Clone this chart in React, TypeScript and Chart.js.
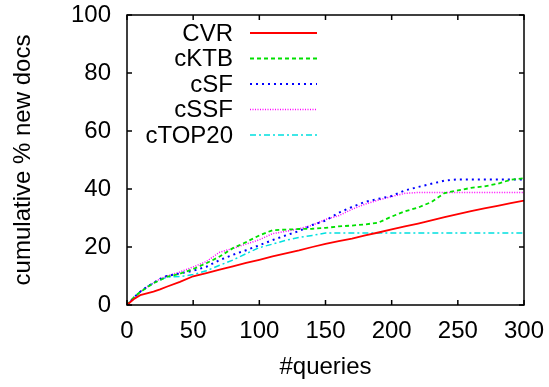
import React, { useEffect, useRef } from "react";
import { Chart, registerables } from "chart.js";

Chart.register(...registerables);

const queries = [0, 5, 10, 15, 20, 25, 30, 40, 50, 60, 70, 80, 90, 100, 110, 120, 130, 140, 150, 160, 170, 180, 190, 200, 210, 220, 230, 240, 250, 260, 270, 280, 290, 300];

const cvr = [0, 2, 3.4, 4, 4.6, 5.4, 6.3, 8, 9.9, 11, 12.2, 13.3, 14.5, 15.6, 16.8, 17.8, 18.8, 20, 21.1, 22, 22.9, 24, 25, 26.1, 27.1, 28.1, 29.2, 30.3, 31.3, 32.4, 33.3, 34.2, 35.1, 36];
const cktb = [0, 2.5, 4.5, 6, 7.5, 8.6, 9.7, 10.8, 12.4, 14.4, 16.7, 19.6, 21.7, 24, 25.8, 26, 26.2, 26.3, 26.6, 27.1, 27.4, 27.8, 28.4, 30.5, 32.3, 33.6, 35.5, 38.6, 39.5, 40.4, 40.9, 41.8, 43.2, 43.7];
const csf = [0, 2.5, 4.6, 6.2, 7.6, 9, 10, 10.9, 11.8, 13.2, 15.5, 17.3, 18.9, 20.6, 22.4, 24, 25.5, 27.6, 29.1, 31.8, 33.8, 35.6, 36.6, 37.6, 39.5, 40.7, 41.8, 42.9, 43.3, 43.3, 43.3, 43.3, 43.3, 43.3];
const cssf = [0, 2.5, 4.6, 6.2, 7.6, 9, 10, 11.4, 13.1, 15, 18.2, 19.5, 21, 22.5, 24.6, 25.4, 26.3, 27.5, 29.5, 30.8, 33, 34.8, 36.2, 37.4, 38.5, 38.8, 38.8, 38.8, 38.8, 38.8, 38.8, 38.8, 38.8, 38.8];
const ctop20 = [0, 2.5, 4.6, 6.3, 7.6, 8.6, 9.6, 9.8, 10.5, 11.8, 13.7, 15.5, 17.7, 19.8, 21, 22.3, 23.3, 24, 24.8, 24.8, 24.8, 24.8, 24.8, 24.8, 24.8, 24.8, 24.8, 24.8, 24.8, 24.8, 24.8, 24.8, 24.8, 24.8];

const seriesNames = ["CVR", "cKTB", "cSF", "cSSF", "cTOP20"];
const seriesValues = [cvr, cktb, csf, cssf, ctop20];
const seriesColors = ["#ff0000", "#00e000", "#0000ff", "#ff00ff", "#00e0e0"];
const seriesDashes = [[], [4, 3], [2, 4], [1, 1.5], [6, 3, 2, 3]];
const seriesWidths = [1.8, 1.8, 2, 1.5, 1.5];

const FONT = '"Liberation Sans", Arial, Helvetica, sans-serif';

const framePlugin = {
  id: "frameTicks",
  afterDraw(chart: any) {
    const { ctx, chartArea } = chart;
    const { left, right, top, bottom } = chartArea;
    const xs = chart.scales.x;
    const ys = chart.scales.y;
    ctx.save();
    ctx.strokeStyle = "#000";
    ctx.lineWidth = 1.5;
    ctx.setLineDash([]);
    const tl = 5;
    ctx.beginPath();
    xs.ticks.forEach((t: any) => {
      const px = xs.getPixelForValue(t.value);
      ctx.moveTo(px, bottom);
      ctx.lineTo(px, bottom - tl);
      ctx.moveTo(px, top);
      ctx.lineTo(px, top + tl);
    });
    ys.ticks.forEach((t: any) => {
      const py = ys.getPixelForValue(t.value);
      ctx.moveTo(left, py);
      ctx.lineTo(left + tl, py);
      ctx.moveTo(right, py);
      ctx.lineTo(right - tl, py);
    });
    ctx.stroke();
    ctx.strokeRect(left, top, right - left, bottom - top);

    // legend
    const textRight = 233;
    const lineStart = 250;
    const lineEnd = 317;
    const rowTop = 33;
    const rowStep = 25.5;
    ctx.font = `24px ${FONT}`;
    ctx.textAlign = "right";
    ctx.textBaseline = "middle";
    chart.data.datasets.forEach((ds: any, i: number) => {
      const y = rowTop + i * rowStep;
      ctx.fillStyle = "#000";
      ctx.fillText(ds.label, textRight, y + 1);
      ctx.beginPath();
      ctx.strokeStyle = ds.borderColor;
      ctx.lineWidth = ds.borderWidth;
      ctx.setLineDash(ds.borderDash || []);
      ctx.moveTo(lineStart, y);
      ctx.lineTo(lineEnd, y);
      ctx.stroke();
    });
    ctx.restore();
  },
};

export default function App() {
  const ref = useRef<HTMLCanvasElement | null>(null);

  useEffect(() => {
    if (!ref.current) return;
    const datasets = seriesNames.map((name, i) => ({
      label: name,
      data: queries.map((q, j) => ({ x: q, y: seriesValues[i][j] })),
      borderColor: seriesColors[i],
      backgroundColor: seriesColors[i],
      borderDash: seriesDashes[i],
      borderWidth: seriesWidths[i],
      pointRadius: 0,
      tension: 0,
      fill: false,
    }));
    const chart = new Chart(ref.current, {
      type: "line",
      data: { datasets },
      plugins: [framePlugin],
      options: {
        animation: false,
        responsive: false,
        maintainAspectRatio: false,
        layout: { padding: { left: 0, right: 25, top: 15, bottom: 0 } },
        plugins: {
          legend: { display: false },
          tooltip: { enabled: false },
        },
        scales: {
          x: {
            type: "linear",
            min: 0,
            max: 300,
            grid: { display: false, drawTicks: false },
            border: { display: false },
            ticks: {
              stepSize: 50,
              color: "#000",
              padding: 12,
              maxRotation: 0,
              font: { family: FONT, size: 24 },
            },
            title: {
              display: true,
              text: "#queries",
              color: "#000",
              font: { family: FONT, size: 24 },
              padding: { top: 0, bottom: 5 },
            },
            afterFit: (s: any) => {
              s.height = 82;
              s.paddingLeft = 0;
              s.paddingRight = 0;
            },
          },
          y: {
            type: "linear",
            min: 0,
            max: 100,
            grid: { display: false, drawTicks: false },
            border: { display: false },
            ticks: {
              stepSize: 20,
              color: "#000",
              padding: 16,
              font: { family: FONT, size: 24 },
            },
            title: {
              display: true,
              text: "cumulative % new docs",
              color: "#000",
              font: { family: FONT, size: 24 },
              padding: { top: 9, bottom: 0 },
            },
            afterFit: (s: any) => {
              s.width = 127;
              s.paddingTop = 0;
              s.paddingBottom = 0;
            },
          },
        },
      },
    });
    return () => chart.destroy();
  }, []);

  return (
    <div style={{ position: "fixed", left: 0, top: 0, width: 549, height: 387, background: "#fff" }}>
      <canvas ref={ref} width={549} height={387} style={{ display: "block", width: 549, height: 387 }} />
    </div>
  );
}
